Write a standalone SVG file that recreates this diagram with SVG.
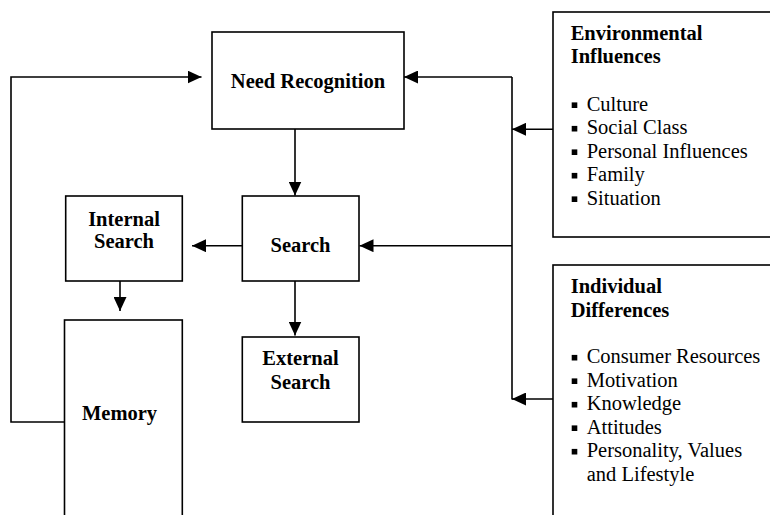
<svg xmlns="http://www.w3.org/2000/svg" width="770" height="515" viewBox="0 0 770 515">
  <style>
    .box { fill: #ffffff; stroke: #000000; stroke-width: 1.6; }
    .wire { fill: none; stroke: #000000; stroke-width: 1.6; }
    .title { font-family: "Liberation Serif", "Times New Roman", serif; font-size: 20.5px; font-weight: bold; fill: #000000; }
    .item { font-family: "Liberation Serif", "Times New Roman", serif; font-size: 20.5px; fill: #000000; }
    .mid { text-anchor: middle; }
    .bullet { fill: #000000; }
  </style>
  <defs>
    <marker id="arrow" markerUnits="userSpaceOnUse" markerWidth="14" markerHeight="13" refX="14" refY="6.5" orient="auto">
      <path d="M0,0 L14,6.5 L0,13 Z" fill="#000000"/>
    </marker>
  </defs>

  <rect width="770" height="515" fill="#ffffff"/>

  <!-- connectors -->
  <g id="connectors">
    <path class="wire" d="M64.5,422 H11 V77 H201.5" marker-end="url(#arrow)"/>
    <path class="wire" d="M295,129 V195.5" marker-end="url(#arrow)"/>
    <path class="wire" d="M242,245.7 H192" marker-end="url(#arrow)"/>
    <path class="wire" d="M120,281 V311" marker-end="url(#arrow)"/>
    <path class="wire" d="M295,281 V335.5" marker-end="url(#arrow)"/>
    <path class="wire" d="M512,77 V399.5"/>
    <path class="wire" d="M512,77 H404" marker-end="url(#arrow)"/>
    <path class="wire" d="M512,245.7 H359.5" marker-end="url(#arrow)"/>
    <path class="wire" d="M553,129.3 H512" marker-end="url(#arrow)"/>
    <path class="wire" d="M553,399 H512" marker-end="url(#arrow)"/>
  </g>

  <g id="need-recognition">
    <rect class="box" x="212" y="32" width="192" height="97"/>
    <text class="title mid" x="308" y="88.3">Need Recognition</text>
  </g>

  <g id="search">
    <rect class="box" x="242.3" y="196" width="116.7" height="85"/>
    <text class="title mid" x="300.5" y="252.3">Search</text>
  </g>

  <g id="internal-search">
    <rect class="box" x="65.7" y="196" width="116.6" height="85"/>
    <text class="title mid" x="124" y="225.7">Internal</text>
    <text class="title mid" x="124" y="248.3">Search</text>
  </g>

  <g id="memory">
    <rect class="box" x="64.5" y="320" width="117.8" height="220"/>
    <text class="title mid" x="119.5" y="420">Memory</text>
  </g>

  <g id="external-search">
    <rect class="box" x="242.3" y="337" width="116.7" height="85"/>
    <text class="title mid" x="300.5" y="365">External</text>
    <text class="title mid" x="300.5" y="389.3">Search</text>
  </g>

  <g id="environmental-influences">
    <rect class="box" x="553" y="12" width="240" height="225"/>
    <text class="title" x="570.7" y="40">Environmental</text>
    <text class="title" x="570.7" y="63.3">Influences</text>
    <rect class="bullet" x="571.7" y="102.4" width="5.6" height="5.6"/>
    <text class="item" x="586.7" y="110.5">Culture</text>
    <rect class="bullet" x="571.7" y="125.9" width="5.6" height="5.6"/>
    <text class="item" x="586.7" y="134">Social Class</text>
    <rect class="bullet" x="571.7" y="149.4" width="5.6" height="5.6"/>
    <text class="item" x="586.7" y="157.5">Personal Influences</text>
    <rect class="bullet" x="571.7" y="172.9" width="5.6" height="5.6"/>
    <text class="item" x="586.7" y="181">Family</text>
    <rect class="bullet" x="571.7" y="196.4" width="5.6" height="5.6"/>
    <text class="item" x="586.7" y="204.5">Situation</text>
  </g>

  <g id="individual-differences">
    <rect class="box" x="553" y="265" width="240" height="280"/>
    <text class="title" x="570.7" y="293.3">Individual</text>
    <text class="title" x="570.7" y="316.7">Differences</text>
    <rect class="bullet" x="571.7" y="354.9" width="5.6" height="5.6"/>
    <text class="item" x="586.7" y="363">Consumer Resources</text>
    <rect class="bullet" x="571.7" y="378.4" width="5.6" height="5.6"/>
    <text class="item" x="586.7" y="386.5">Motivation</text>
    <rect class="bullet" x="571.7" y="401.9" width="5.6" height="5.6"/>
    <text class="item" x="586.7" y="410">Knowledge</text>
    <rect class="bullet" x="571.7" y="425.4" width="5.6" height="5.6"/>
    <text class="item" x="586.7" y="433.5">Attitudes</text>
    <rect class="bullet" x="571.7" y="448.9" width="5.6" height="5.6"/>
    <text class="item" x="586.7" y="457">Personality, Values</text>
    <text class="item" x="586.7" y="480.5">and Lifestyle</text>
  </g>
</svg>
